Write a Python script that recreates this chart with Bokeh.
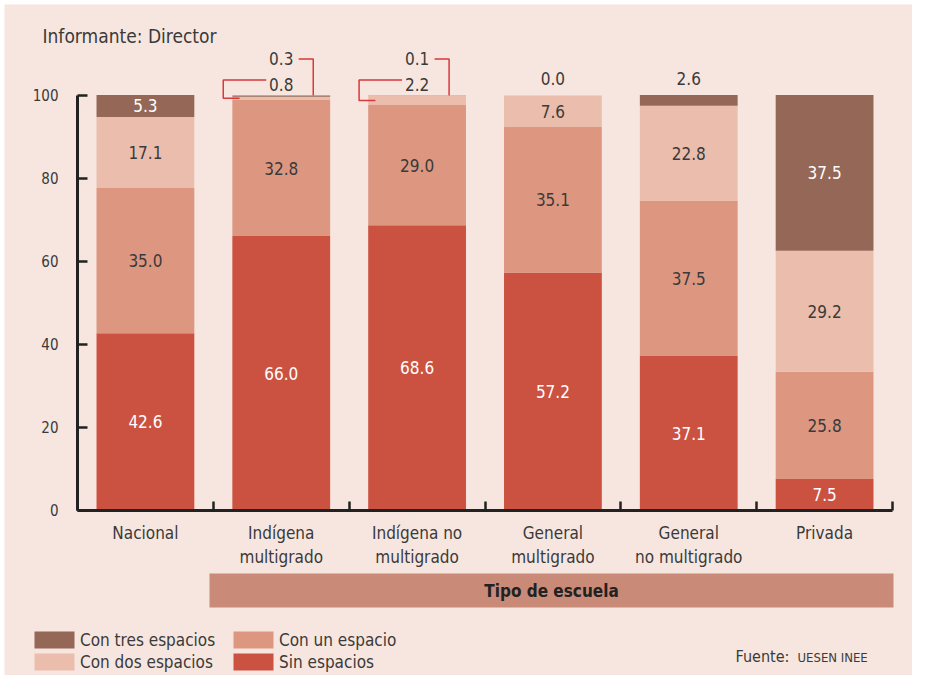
from bokeh.plotting import figure
from bokeh.models import (ColumnDataSource, FixedTicker, Legend, LegendItem, Label,
                          BoxAnnotation, Range1d)
from bokeh.core.properties import value
from bokeh.embed import file_html
from bokeh.resources import INLINE

# ---------------- data ----------------
categories = ["Nacional", "Indígena\nmultigrado", "Indígena no\nmultigrado",
              "General\nmultigrado", "General\nno multigrado", "Privada"]
sin_espacios = [42.6, 66.0, 68.6, 57.2, 37.1, 7.5]
con_un_espacio = [35.0, 32.8, 29.0, 35.1, 37.5, 25.8]
con_dos_espacios = [17.1, 0.8, 2.2, 7.6, 22.8, 29.2]
con_tres_espacios = [5.3, 0.3, 0.1, 0.0, 2.6, 37.5]
series_names = ["Sin espacios", "Con un espacio", "Con dos espacios", "Con tres espacios"]
y_ticks = [0, 20, 40, 60, 80, 100]

# ---------------- styles ----------------
FONT = "Liberation Sans Narrow, DejaVu Sans Condensed, Noto Sans Condensed, Roboto Condensed, Roboto"
BG = "#F7E6DF"
COLORS = ["#CB5241", "#DD9781", "#EBBDAD", "#956756"]
TEXT_COLORS = ["white", "#3a3a3a", "#3a3a3a", "white"]
DARK = "#3a3a3a"
CALLOUT = "#D8393B"
BAR_W = 0.72
W, H = 912, 675
M = 4  # white margin on the left / top

n = len(categories)
xs = [i + 0.5 for i in range(n)]
source = ColumnDataSource(dict(x=xs, sin=sin_espacios, un=con_un_espacio,
                               dos=con_dos_espacios, tres=con_tres_espacios))

# pixel geometry of the plot area (x 0..n from px 77 to 892, y 0..100 from px 509.5 to 94.5)
X0, X1 = 77, 892
Y0, Y100 = 509.5, 94.5
PX_PER_X = (X1 - X0) / n
PX_PER_Y = (Y0 - Y100) / 100


def px_x(px):
    return (px - X0) / PX_PER_X


def px_y(py):
    return (Y0 - py) / PX_PER_Y


def dx(pixels):
    return pixels / PX_PER_X


p = figure(width=W, height=H, output_backend="svg", toolbar_location=None,
           x_range=Range1d(px_x(M), px_x(W)), y_range=Range1d(px_y(H), px_y(M)),
           min_border_left=M, min_border_top=M, min_border_right=0, min_border_bottom=0)
p.background_fill_color = BG
p.border_fill_color = "white"
p.outline_line_color = None
p.grid.visible = False

renderers = p.vbar_stack(["sin", "un", "dos", "tres"], x="x", width=BAR_W,
                         color=COLORS, line_color=None, source=source)

# ---------------- axes ----------------
ya = p.yaxis[0]
ya.fixed_location = 0
ya.ticker = FixedTicker(ticks=y_ticks, minor_ticks=[])
ya.bounds = (0, 100)
ya.axis_line_width = 3
ya.axis_line_color = "#222222"
ya.major_tick_in = 10
ya.major_tick_out = 0
ya.major_tick_line_width = 2.5
ya.major_tick_line_color = "#222222"
ya.major_label_text_font = FONT
ya.major_label_text_font_size = "15px"
ya.major_label_text_color = DARK
ya.major_label_standoff = 19

xa = p.xaxis[0]
xa.fixed_location = 0
xa.bounds = (0, n)
xa.ticker = FixedTicker(ticks=xs, minor_ticks=list(range(n + 1)))
xa.major_label_overrides = {x: c for x, c in zip(xs, categories)}
xa.axis_line_width = 3
xa.axis_line_color = "#222222"
xa.major_tick_line_color = None
xa.minor_tick_in = 9
xa.minor_tick_out = 0
xa.minor_tick_line_width = 2.5
xa.minor_tick_line_color = "#222222"
xa.major_label_text_font = FONT
xa.major_label_text_font_size = "17px"
xa.major_label_text_color = DARK
xa.major_label_text_line_height = 1.2
xa.major_label_standoff = 7

# ---------------- value labels ----------------
stacks = [sin_espacios, con_un_espacio, con_dos_espacios, con_tres_espacios]
lx, ly, lt, lc = [], [], [], []
small_x, small_y, small_t = [], [], []
cl_xs, cl_ys = [], []
for i in range(n):
    base = 0.0
    total = sum(s[i] for s in stacks)
    for k, s in enumerate(stacks):
        v = s[i]
        mid = base + v / 2
        if v >= 3:
            lx.append(xs[i]); ly.append(mid); lt.append(f"{v:.1f}"); lc.append(TEXT_COLORS[k])
        else:
            small_t.append(f"{v:.1f}")
            small_x.append(xs[i])
            if con_dos_espacios[i] < 3:
                # callouts for the indígena bars
                if k == 3:
                    small_y.append(px_y(58))
                    cl_xs.append([xs[i] + dx(17.5), xs[i] + dx(32), xs[i] + dx(32)])
                    cl_ys.append([px_y(58.5), px_y(58.5), total])
                else:
                    small_y.append(px_y(84))
                    cl_xs.append([xs[i] - dx(15), xs[i] - dx(58), xs[i] - dx(58), xs[i] - dx(41.7)])
                    cl_ys.append([px_y(79.5), px_y(79.5), mid, mid])
            else:
                small_y.append(px_y(78))
        base += v

p.text(x=lx, y=ly, text=lt, text_color=lc, text_align="center", text_baseline="middle",
       text_font=value(FONT), text_font_size="17px")
p.text(x=small_x, y=small_y, text=small_t, text_color=DARK, text_align="center",
       text_baseline="middle", text_font=value(FONT), text_font_size="17px")
p.multi_line(xs=cl_xs, ys=cl_ys, line_color=CALLOUT, line_width=1.5)

# ---------------- other texts ----------------
p.add_layout(Label(x=px_x(42), y=px_y(35), text="Informante: Director", text_font=FONT,
                   text_font_size="19px", text_color=DARK, text_baseline="middle"))

p.add_layout(BoxAnnotation(left=px_x(209), right=px_x(893), top=px_y(573), bottom=px_y(607),
                           fill_color="#C98A78", fill_alpha=1.0, line_color=None))
p.add_layout(Label(x=(px_x(209) + px_x(893)) / 2, y=(px_y(573) + px_y(607)) / 2,
                   text="Tipo de escuela", text_font=FONT, text_font_size="17px",
                   text_font_style="bold", text_color="#222222", text_align="center",
                   text_baseline="middle"))

p.add_layout(Label(x=px_x(735), y=px_y(656), text="Fuente:", text_font=FONT,
                   text_font_size="16px", text_color=DARK, text_baseline="middle"))
p.add_layout(Label(x=px_x(797), y=px_y(657), text="UESEN INEE", text_font=FONT,
                   text_font_size="13px", text_color=DARK, text_baseline="middle"))

# ---------------- legend ----------------
r_sin, r_un, r_dos, r_tres = renderers
legend = Legend(items=[LegendItem(label=series_names[3], renderers=[r_tres]),
                       LegendItem(label=series_names[2], renderers=[r_dos]),
                       LegendItem(label=series_names[1], renderers=[r_un]),
                       LegendItem(label=series_names[0], renderers=[r_sin])],
                ncols=2, location=(29 - M, H - 672), glyph_width=50, glyph_height=21,
                label_text_font=FONT, label_text_font_size="17px", label_text_color=DARK,
                label_standoff=1, label_height=21, label_width=147, spacing=1,
                padding=0, margin=0, background_fill_alpha=0, border_line_color=None)
p.add_layout(legend)

open("out.html", "w").write(file_html(p, INLINE))
